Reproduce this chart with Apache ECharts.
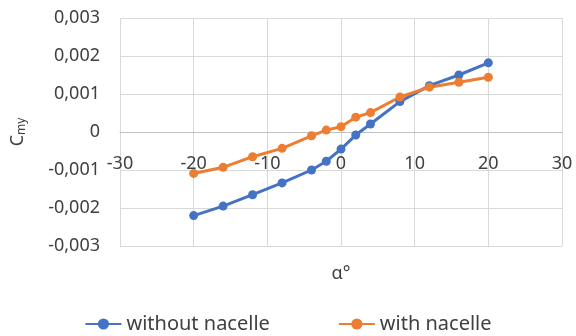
<!DOCTYPE html>
<html><head><meta charset="utf-8">
<script src="https://cdn.jsdelivr.net/npm/echarts@6/dist/echarts.min.js"></script>
<style>html,body{margin:0;padding:0;background:#fff}#c{width:576px;height:336px}</style>
</head><body><div id="c"></div>
<script>
const alpha = [-20,-16,-12,-8,-4,-2,0,2,4,8,12,16,20];
const withoutNacelle = [-0.00220,-0.00195,-0.00165,-0.00134,-0.00100,-0.00077,-0.00045,-0.00008,0.00021,0.00080,0.00122,0.00150,0.00182];
const withNacelle = [-0.00109,-0.00093,-0.00065,-0.00043,-0.00010,0.00005,0.00014,0.00039,0.00051,0.00092,0.00118,0.00131,0.00144];
const seriesNames = ['without nacelle','with nacelle'];

const FONT = 'Noto Sans';
const chart = echarts.init(document.getElementById('c'));
const fmtY = v => Math.abs(v) < 1e-9 ? '0' : v.toFixed(3).replace('.', ',');
chart.setOption({
  animation:false,
  textStyle:{fontFamily:FONT},
  grid:{left:120,right:14,top:18,bottom:90,outerBoundsMode:'none',containLabel:false},
  legend:{top:307,left:'center',itemWidth:36,itemHeight:14,itemGap:68,
    textStyle:{fontFamily:FONT,fontSize:20,color:'#404040',lineHeight:24},
    data:seriesNames},
  xAxis:{type:'value',min:-30,max:30,interval:10,position:'bottom',offset:-114,
    name:'α°',nameLocation:'middle',nameGap:133,
    nameTextStyle:{fontFamily:FONT,fontSize:18,color:'#404040'},
    axisLine:{onZero:false,lineStyle:{color:'#bfbfbf',width:1}},
    axisTick:{show:false},
    axisLabel:{fontFamily:FONT,fontSize:18,color:'#404040',margin:23},
    splitLine:{show:true,lineStyle:{color:'#d9d9d9',width:1}}},
  yAxis:{type:'value',min:-0.003,max:0.003,interval:0.001,
    name:'{a|C}{b|my}',nameLocation:'middle',nameGap:92,nameRotate:90,
    nameTextStyle:{rich:{
      a:{fontFamily:FONT,fontSize:18,color:'#404040'},
      b:{fontFamily:FONT,fontSize:12,color:'#404040',verticalAlign:'bottom',padding:[8,0,0,0]}}},
    axisLine:{show:false},axisTick:{show:false},
    axisLabel:{fontFamily:FONT,fontSize:18,color:'#404040',margin:20,formatter:fmtY},
    splitLine:{show:true,lineStyle:{color:'#d9d9d9',width:1}}},
  series:[
    {name:seriesNames[0],type:'line',data:alpha.map((a,i)=>[a,withoutNacelle[i]]),
     symbol:'circle',symbolSize:9,color:'#4472C4',lineStyle:{width:3}},
    {name:seriesNames[1],type:'line',data:alpha.map((a,i)=>[a,withNacelle[i]]),
     symbol:'circle',symbolSize:9,color:'#ED7D31',lineStyle:{width:3}}
  ]
});
</script></body></html>
